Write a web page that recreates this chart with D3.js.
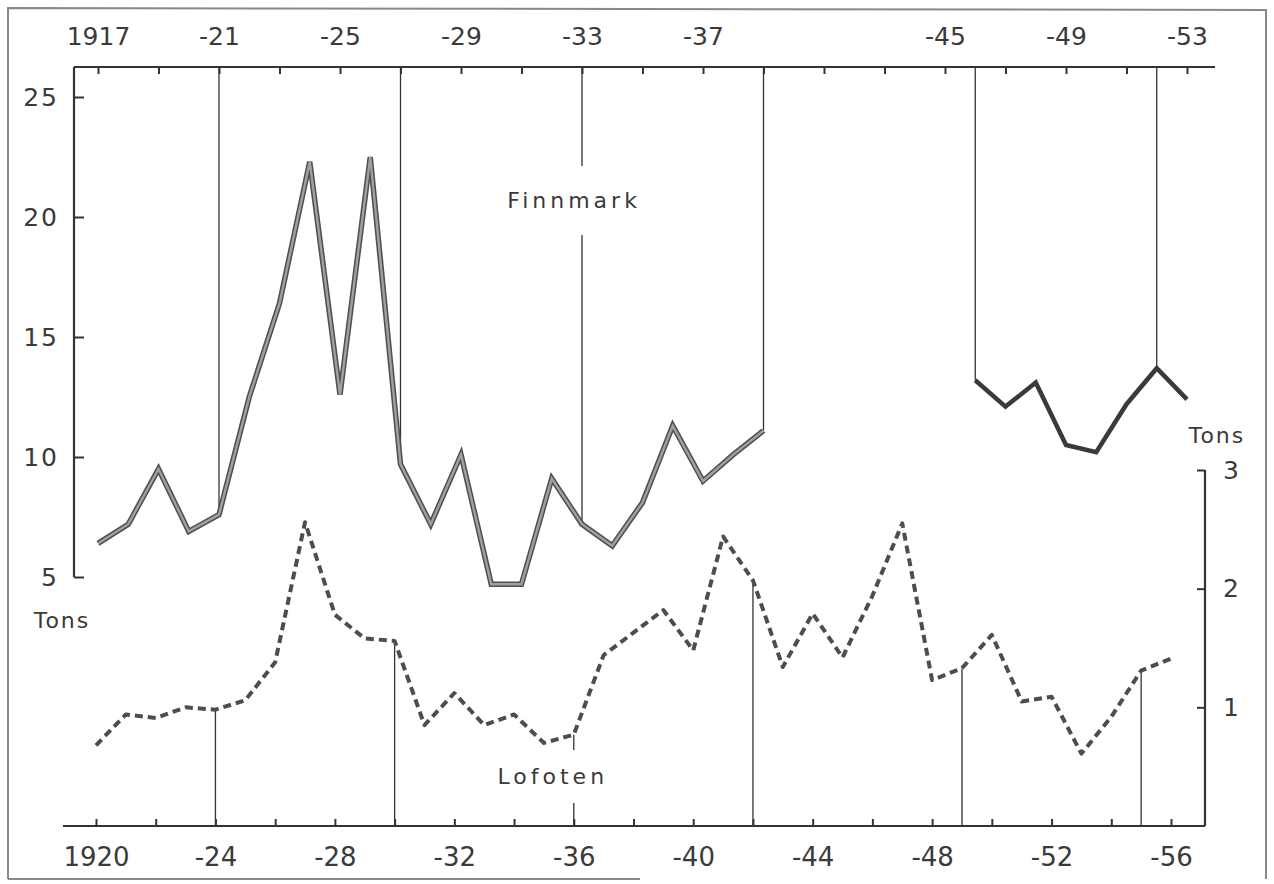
<!DOCTYPE html>
<html>

<head>
    <meta charset="utf-8">
    <title>Finnmark - Lofoten</title>
    <script src="https://d3js.org/d3.v7.min.js"></script>
    <style>
        html,
        body {
            margin: 0;
            padding: 0;
            background: #fff;
            overflow: hidden;
        }

        svg text {
            font-family: "DejaVu Sans", sans-serif;
            fill: #3a3a3a;
        }
    </style>
</head>

<body>
    <svg id="chart" width="1274" height="884"></svg>

    <script>
        // Datos: Finnmark (eje superior, años 1917-1953), con hueco en la guerra
        const finnmarkYearsA = [1917, 1918, 1919, 1920, 1921, 1922, 1923, 1924, 1925, 1926, 1927, 1928,
            1929, 1930, 1931, 1932, 1933, 1934, 1935, 1936, 1937, 1938, 1939];
        const finnmarkTonsA = [6.4, 7.2, 9.5, 6.9, 7.6, 12.5, 16.4, 22.3, 12.6, 22.5, 9.7, 7.2,
            10.1, 4.7, 4.7, 9.1, 7.2, 6.3, 8.1, 11.3, 9.0, 10.1, 11.1];
        const finnmarkYearsB = [1946, 1947, 1948, 1949, 1950, 1951, 1952, 1953];
        const finnmarkTonsB = [13.2, 12.1, 13.1, 10.5, 10.2, 12.2, 13.7, 12.4];

        // Datos: Lofoten (eje inferior, años 1920-1956)
        const lofotenYears = [1920, 1921, 1922, 1923, 1924, 1925, 1926, 1927, 1928, 1929, 1930, 1931,
            1932, 1933, 1934, 1935, 1936, 1937, 1938, 1939, 1940, 1941, 1942, 1943, 1944, 1945, 1946,
            1947, 1948, 1949, 1950, 1951, 1952, 1953, 1954, 1955, 1956];
        const lofotenTons = [0.68, 0.94, 0.91, 1.0, 0.98, 1.06, 1.38, 2.56, 1.78, 1.58, 1.56, 0.85,
            1.12, 0.85, 0.94, 0.70, 0.77, 1.44, 1.63, 1.82, 1.48, 2.44, 2.07, 1.34, 1.79, 1.42, 1.94,
            2.55, 1.23, 1.33, 1.61, 1.05, 1.09, 0.61, 0.92, 1.31, 1.41];

        // Ticks y etiquetas
        const topTickYears = [1917, 1919, 1921, 1923, 1925, 1927, 1929, 1931, 1933, 1935, 1937, 1939,
            1941, 1943, 1945, 1947, 1949, 1951, 1953];
        const topLabelYears = [1917, 1921, 1925, 1929, 1933, 1937, 1945, 1949, 1953];
        const bottomTickYears = [1920, 1922, 1924, 1926, 1928, 1930, 1932, 1934, 1936, 1938, 1940,
            1942, 1944, 1946, 1948, 1950, 1952, 1954, 1956];
        const bottomLabelYears = [1920, 1924, 1928, 1932, 1936, 1940, 1944, 1948, 1952, 1956];
        const finnmarkTicks = [5, 10, 15, 20, 25];
        const lofotenTicks = [1, 2, 3];

        // Líneas verticales que unen las curvas con su eje
        const finnmarkLinkYears = [1921, 1927, 1933, 1939, 1946, 1952];
        const lofotenLinkYears = [1924, 1930, 1936, 1942, 1949, 1955];

        // Layout
        const topY = 67;
        const bottomY = 826;
        const leftX = 74;
        const rightX = 1205;
        const ink = "#333";

        const svg = d3.select("#chart");

        const xTop = d3.scaleLinear().domain([1917, 1953]).range([98, 1187]);
        const xBot = d3.scaleLinear().domain([1920, 1956]).range([96, 1171]);
        const yF = d3.scaleLinear().domain([5, 25]).range([577, 97]);
        const yL = d3.scaleLinear().domain([0, 3]).range([bottomY, 470]);

        const fmtTop = d => d === 1917 ? "1917" : "-" + String(d).slice(2);
        const fmtBot = d => d === 1920 ? "1920" : "-" + String(d).slice(2);

        // Marco escaneado
        svg.append("path")
            .attr("d", "M8,879 L8,8 L1266,10 L1266,879 M8,879 L640,879")
            .attr("fill", "none")
            .attr("stroke", "#888")
            .attr("stroke-width", 2);

        // Líneas de eje
        const axisLines = svg.append("g").attr("stroke", ink).attr("stroke-width", 2.2).attr("fill", "none");
        axisLines.append("line").attr("x1", leftX).attr("x2", 1215).attr("y1", topY).attr("y2", topY);
        axisLines.append("line").attr("x1", leftX).attr("x2", leftX).attr("y1", topY).attr("y2", yF(5));
        axisLines.append("line").attr("x1", 63).attr("x2", rightX).attr("y1", bottomY).attr("y2", bottomY);
        axisLines.append("line").attr("x1", rightX).attr("x2", rightX).attr("y1", yL(3)).attr("y2", bottomY);

        function styleAxis(g, size) {
            g.attr("font-size", size)
                .attr("font-family", "DejaVu Sans, sans-serif")
                .attr("color", ink);
            g.select(".domain").remove();
            g.selectAll(".tick line").attr("stroke-width", 2);
        }

        // Eje superior (Finnmark)
        svg.append("g")
            .attr("transform", `translate(0,${topY})`)
            .call(d3.axisTop(xTop).tickValues(topTickYears).tickSize(-7).tickFormat(""))
            .call(g => styleAxis(g, 25));
        svg.append("g")
            .attr("transform", `translate(0,${topY})`)
            .call(d3.axisTop(xTop).tickValues(topLabelYears).tickSize(0).tickPadding(22).tickFormat(fmtTop))
            .call(g => styleAxis(g, 25));

        // Eje inferior (Lofoten)
        svg.append("g")
            .attr("transform", `translate(0,${bottomY})`)
            .call(d3.axisBottom(xBot).tickValues(bottomTickYears).tickSize(-7).tickFormat(""))
            .call(g => styleAxis(g, 26));
        svg.append("g")
            .attr("transform", `translate(0,${bottomY})`)
            .call(d3.axisBottom(xBot).tickValues(bottomLabelYears).tickSize(0).tickPadding(22).tickFormat(fmtBot))
            .call(g => styleAxis(g, 26));

        // Eje izquierdo (toneladas Finnmark)
        svg.append("g")
            .attr("transform", `translate(${leftX},0)`)
            .call(d3.axisLeft(yF).tickValues(finnmarkTicks).tickSize(-10).tickPadding(15))
            .call(g => styleAxis(g, 25))
            .call(g => g.selectAll("text").attr("letter-spacing", 2));

        // Eje derecho (toneladas Lofoten)
        svg.append("g")
            .attr("transform", `translate(${rightX},0)`)
            .call(d3.axisRight(yL).tickValues(lofotenTicks).tickSize(-8).tickPadding(18).tickFormat(d3.format("d")))
            .call(g => styleAxis(g, 25));

        // Títulos de unidades
        svg.append("text").attr("x", 62).attr("y", 628).attr("text-anchor", "middle")
            .attr("font-size", 22).attr("letter-spacing", 2).text("Tons");
        svg.append("text").attr("x", 1217).attr("y", 443).attr("text-anchor", "middle")
            .attr("font-size", 22).attr("letter-spacing", 2).text("Tons");

        // Nombres de series
        const finnLabel = svg.append("text").attr("x", xTop(1933) - 8).attr("y", 208)
            .attr("text-anchor", "middle").attr("font-size", 22).attr("letter-spacing", 4)
            .text("Finnmark");
        const lofLabel = svg.append("text").attr("x", xBot(1936) - 21).attr("y", 784)
            .attr("text-anchor", "middle").attr("font-size", 22).attr("letter-spacing", 4)
            .text("Lofoten");

        // Segmentos verticales, cortados donde pasa una etiqueta
        function drawLink(x, y1, y2, label, pad) {
            const b = label.node().getBBox();
            const lo = Math.min(y1, y2), hi = Math.max(y1, y2);
            const links = svg.append("g").attr("stroke", ink).attr("stroke-width", 1.3);
            if (x > b.x && x < b.x + b.width && b.y - pad < hi && b.y + b.height + pad > lo) {
                const gapTop = Math.max(lo, b.y - pad);
                const gapBot = Math.min(hi, b.y + b.height + pad);
                if (gapTop > lo) links.append("line").attr("x1", x).attr("x2", x).attr("y1", lo).attr("y2", gapTop);
                if (gapBot < hi) links.append("line").attr("x1", x).attr("x2", x).attr("y1", gapBot).attr("y2", hi);
            } else {
                links.append("line").attr("x1", x).attr("x2", x).attr("y1", lo).attr("y2", hi);
            }
        }

        const finnAll = finnmarkYearsA.map((y, i) => ({ year: y, v: finnmarkTonsA[i] }))
            .concat(finnmarkYearsB.map((y, i) => ({ year: y, v: finnmarkTonsB[i] })));
        finnmarkLinkYears.forEach(yr => {
            const d = finnAll.find(p => p.year === yr);
            drawLink(xTop(yr), topY, yF(d.v), finnLabel, 22);
        });
        lofotenLinkYears.forEach(yr => {
            const i = lofotenYears.indexOf(yr);
            drawLink(xBot(yr), yL(lofotenTons[i]), bottomY, lofLabel, 14);
        });

        // Curva Finnmark
        const lineF = d3.line().x(d => xTop(d[0])).y(d => yF(d[1]));
        const finnA = finnmarkYearsA.map((y, i) => [y, finnmarkTonsA[i]]);
        const finnB = finnmarkYearsB.map((y, i) => [y, finnmarkTonsB[i]]);

        svg.append("path").datum(finnA).attr("d", lineF)
            .attr("fill", "none").attr("stroke", "#505050").attr("stroke-width", 5.5)
            .attr("stroke-linejoin", "miter");
        svg.append("path").datum(finnA).attr("d", lineF)
            .attr("fill", "none").attr("stroke", "#a0a0a0").attr("stroke-width", 2.4)
            .attr("stroke-linejoin", "miter");
        svg.append("path").datum(finnB).attr("d", lineF)
            .attr("fill", "none").attr("stroke", "#3a3a3a").attr("stroke-width", 4.5)
            .attr("stroke-linejoin", "miter");

        // Curva Lofoten (discontinua)
        const lineL = d3.line().x(d => xBot(d[0])).y(d => yL(d[1]));
        svg.append("path")
            .datum(lofotenYears.map((y, i) => [y, lofotenTons[i]]))
            .attr("d", lineL)
            .attr("fill", "none")
            .attr("stroke", "#4d4d4d")
            .attr("stroke-width", 4)
            .attr("stroke-dasharray", "8,5")
            .attr("stroke-linejoin", "round");
    </script>
</body>

</html>
